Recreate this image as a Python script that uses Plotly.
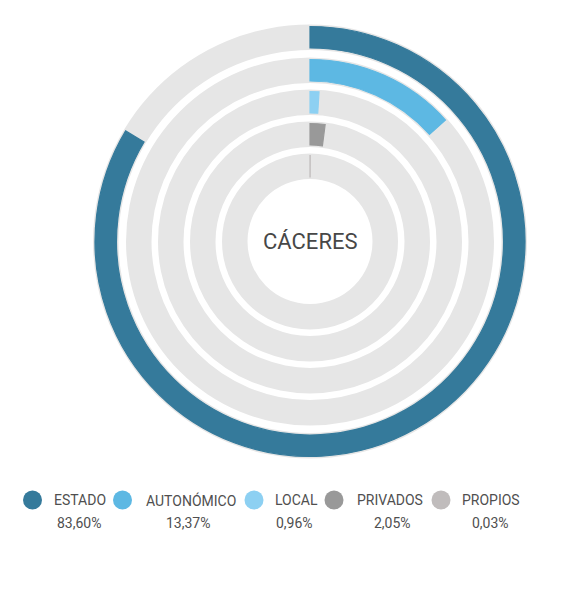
import plotly.graph_objects as go

# ---- data ----
categories = ["ESTADO", "AUTONÓMICO", "LOCAL", "PRIVADOS", "PROPIOS"]
values = [83.60, 13.37, 0.96, 2.05, 0.03]
value_labels = ["83,60%", "13,37%", "0,96%", "2,05%", "0,03%"]
colors = ["#357A9B", "#5DB8E3", "#8DD0F2", "#999999", "#C0BCBC"]
center_title = "CÁCERES"

# ring geometry (radial units == pixels)
bar_inner = [193.5, 160.5, 128.5, 96.5, 64.5]
bar_thick = 21.5
track_pad = 2.0
R = 220

# page has an 8px body margin; figure fills the rest of the 588x599 window
OFF = 8
W, H = 588 - 2 * OFF, 599 - 2 * OFF
cx, cy = 310 - OFF, 241.5 - OFF

fig = go.Figure()

# gray tracks
for i, cat in enumerate(categories):
    fig.add_trace(go.Barpolar(
        r=[bar_thick + 2 * track_pad], base=[bar_inner[i] - track_pad],
        theta=[180], width=[360],
        marker=dict(color="#E6E6E6", line=dict(width=0)),
        hoverinfo="skip", showlegend=False,
    ))

# value bars
for i, cat in enumerate(categories):
    span = values[i] / 100 * 360
    fig.add_trace(go.Barpolar(
        r=[bar_thick], base=[bar_inner[i]],
        theta=[span / 2], width=[span],
        marker=dict(color=colors[i], line=dict(width=1.2, color=colors[i])),
        name=cat, showlegend=False,
    ))

fig.update_layout(
    width=W, height=H,
    margin=dict(l=0, r=0, t=0, b=0),
    paper_bgcolor="white", plot_bgcolor="white",
    polar=dict(
        domain=dict(x=[(cx - R) / W, (cx + R) / W],
                    y=[1 - (cy + R) / H, 1 - (cy - R) / H]),
        bgcolor="rgba(0,0,0,0)",
        radialaxis=dict(range=[0, R], visible=False),
        angularaxis=dict(visible=False, direction="clockwise", rotation=90),
        barmode="overlay",
        hole=0,
    ),
    font=dict(family="Roboto, sans-serif"),
)

# center label
fig.add_annotation(x=cx / W, y=1 - cy / H, xref="paper", yref="paper",
                   text=center_title, showarrow=False,
                   font=dict(size=22, color="#474747", family="Roboto"))

# custom legend (screen coordinates, shifted by body margin)
circle_x = [32.5, 122.5, 254, 334, 441]
text_center = [79, 188, 294, 392, 490]
text_left = [52, 144, 273, 355, 460]
leg_y = 500
pct_y = 523
for i, cat in enumerate(categories):
    ccx = circle_x[i] - OFF
    ly = leg_y - OFF
    py = pct_y - OFF
    fig.add_shape(type="circle", xref="paper", yref="paper",
                  x0=(ccx - 9.5) / W, x1=(ccx + 9.5) / W,
                  y0=1 - (ly + 9.5) / H, y1=1 - (ly - 9.5) / H,
                  fillcolor=colors[i], line=dict(width=0))
    fig.add_annotation(x=(text_left[i] - OFF) / W, y=1 - ly / H, xref="paper", yref="paper",
                       text=cat, showarrow=False, xanchor="left", yanchor="middle",
                       font=dict(size=14, color="#4F4F4F", family="Roboto"))
    fig.add_annotation(x=(text_center[i] - OFF) / W, y=1 - py / H, xref="paper", yref="paper",
                       text=value_labels[i], showarrow=False, xanchor="center", yanchor="middle",
                       font=dict(size=14, color="#4F4F4F", family="Roboto"))

fig.write_html("out.html")
